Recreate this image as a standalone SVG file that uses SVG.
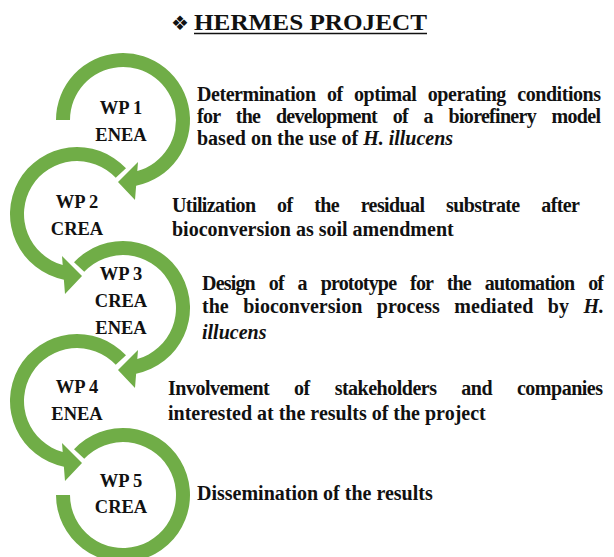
<svg xmlns="http://www.w3.org/2000/svg" xmlns:xlink="http://www.w3.org/1999/xlink" width="614" height="557" viewBox="0 0 614 557">
  <style>
    .ring { fill: #70AD47; }
    .wp { font-family: "Liberation Serif", "Times New Roman", serif; font-weight: bold; font-size: 18.5px; fill: #111; text-anchor: middle; }
    .desc { font-family: "Liberation Serif", "Times New Roman", serif; font-weight: bold; font-size: 20px; fill: #111; }
    .it { font-style: italic; }
    .title { font-family: "Liberation Serif", "Times New Roman", serif; font-weight: bold; font-size: 24px; fill: #111; }
  </style>
  <defs>
    <!-- ring of radius 53..67 around (0,0), clockwise, head near the bottom -->
    <path id="arrow-from-left" class="ring" d="M -67,0 A 67 67 0 1 1 13.13,65.70 L 12,80 L -5,62 L 15,42 L 14.29,51.04 A 53 53 0 1 0 -53,0 Z"/>
    <path id="arrow-from-upper-left" class="ring" d="M -49.00,-45.69 A 67 67 0 1 1 13.13,65.70 L 12,80 L -5,62 L 15,42 L 14.29,51.04 A 53 53 0 1 0 -38.76,-36.15 Z"/>
    <!-- last ring: no head, ends at nine o'clock -->
    <path id="ring-open" class="ring" d="M -49.00,-45.69 A 67 67 0 1 1 -67,0 L -53,0 A 53 53 0 1 0 -38.76,-36.15 Z"/>
  </defs>

  <!-- heading -->
  <g id="title">
    <text x="171" y="30" font-family="'DejaVu Sans', sans-serif" font-size="20" fill="#111">❖</text>
    <text class="title" x="194" y="30" textLength="233" lengthAdjust="spacingAndGlyphs">HERMES PROJECT</text>
    <line x1="194" y1="33.5" x2="427" y2="33.5" stroke="#111" stroke-width="1.6"/>
  </g>

  <!-- circular arrows, one per work package -->
  <g id="connectors">
    <use xlink:href="#arrow-from-left" transform="translate(123,120)"/>
    <use xlink:href="#arrow-from-upper-left" transform="translate(77,214) scale(-1,1)"/>
    <use xlink:href="#arrow-from-upper-left" transform="translate(123,308)"/>
    <use xlink:href="#arrow-from-upper-left" transform="translate(77,401) scale(-1,1)"/>
    <use xlink:href="#ring-open" transform="translate(123,495)"/>
  </g>

  <g id="wp1">
    <text class="wp" x="121" y="114">WP 1</text>
    <text class="wp" x="121" y="141">ENEA</text>
  </g>
  <g id="wp2">
    <text class="wp" x="77" y="208">WP 2</text>
    <text class="wp" x="77" y="235">CREA</text>
  </g>
  <g id="wp3">
    <text class="wp" x="121" y="280">WP 3</text>
    <text class="wp" x="121" y="307">CREA</text>
    <text class="wp" x="121" y="334">ENEA</text>
  </g>
  <g id="wp4">
    <text class="wp" x="77" y="393">WP 4</text>
    <text class="wp" x="77" y="420">ENEA</text>
  </g>
  <g id="wp5">
    <text class="wp" x="121" y="487">WP 5</text>
    <text class="wp" x="121" y="513">CREA</text>
  </g>

  <!-- work package descriptions (justified) -->
  <g id="desc1">
    <text class="desc" x="197" y="101" word-spacing="6.8" textLength="404">Determination of optimal operating conditions</text>
    <text class="desc" x="197" y="123" word-spacing="11.4" textLength="404">for the development of a biorefinery model</text>
    <text class="desc" x="197" y="145">based on the use of <tspan class="it">H. illucens</tspan></text>
  </g>
  <g id="desc2">
    <text class="desc" x="172" y="212" word-spacing="17.2" textLength="408">Utilization of the residual substrate after</text>
    <text class="desc" x="172" y="236">bioconversion as soil amendment</text>
  </g>
  <g id="desc3">
    <text class="desc" x="202" y="290" word-spacing="9.66" textLength="402">Design of a prototype for the automation of</text>
    <text class="desc" x="202" y="313" word-spacing="9.5" textLength="367">the bioconversion process mediated by</text>
    <text class="desc it" x="583.5" y="313">H.</text>
    <text class="desc it" x="202" y="339">illucens</text>
  </g>
  <g id="desc4">
    <text class="desc" x="168" y="395" word-spacing="20.4" textLength="435">Involvement of stakeholders and companies</text>
    <text class="desc" x="168" y="420">interested at the results of the project</text>
  </g>
  <g id="desc5">
    <text class="desc" x="197" y="500">Dissemination of the results</text>
  </g>
</svg>
